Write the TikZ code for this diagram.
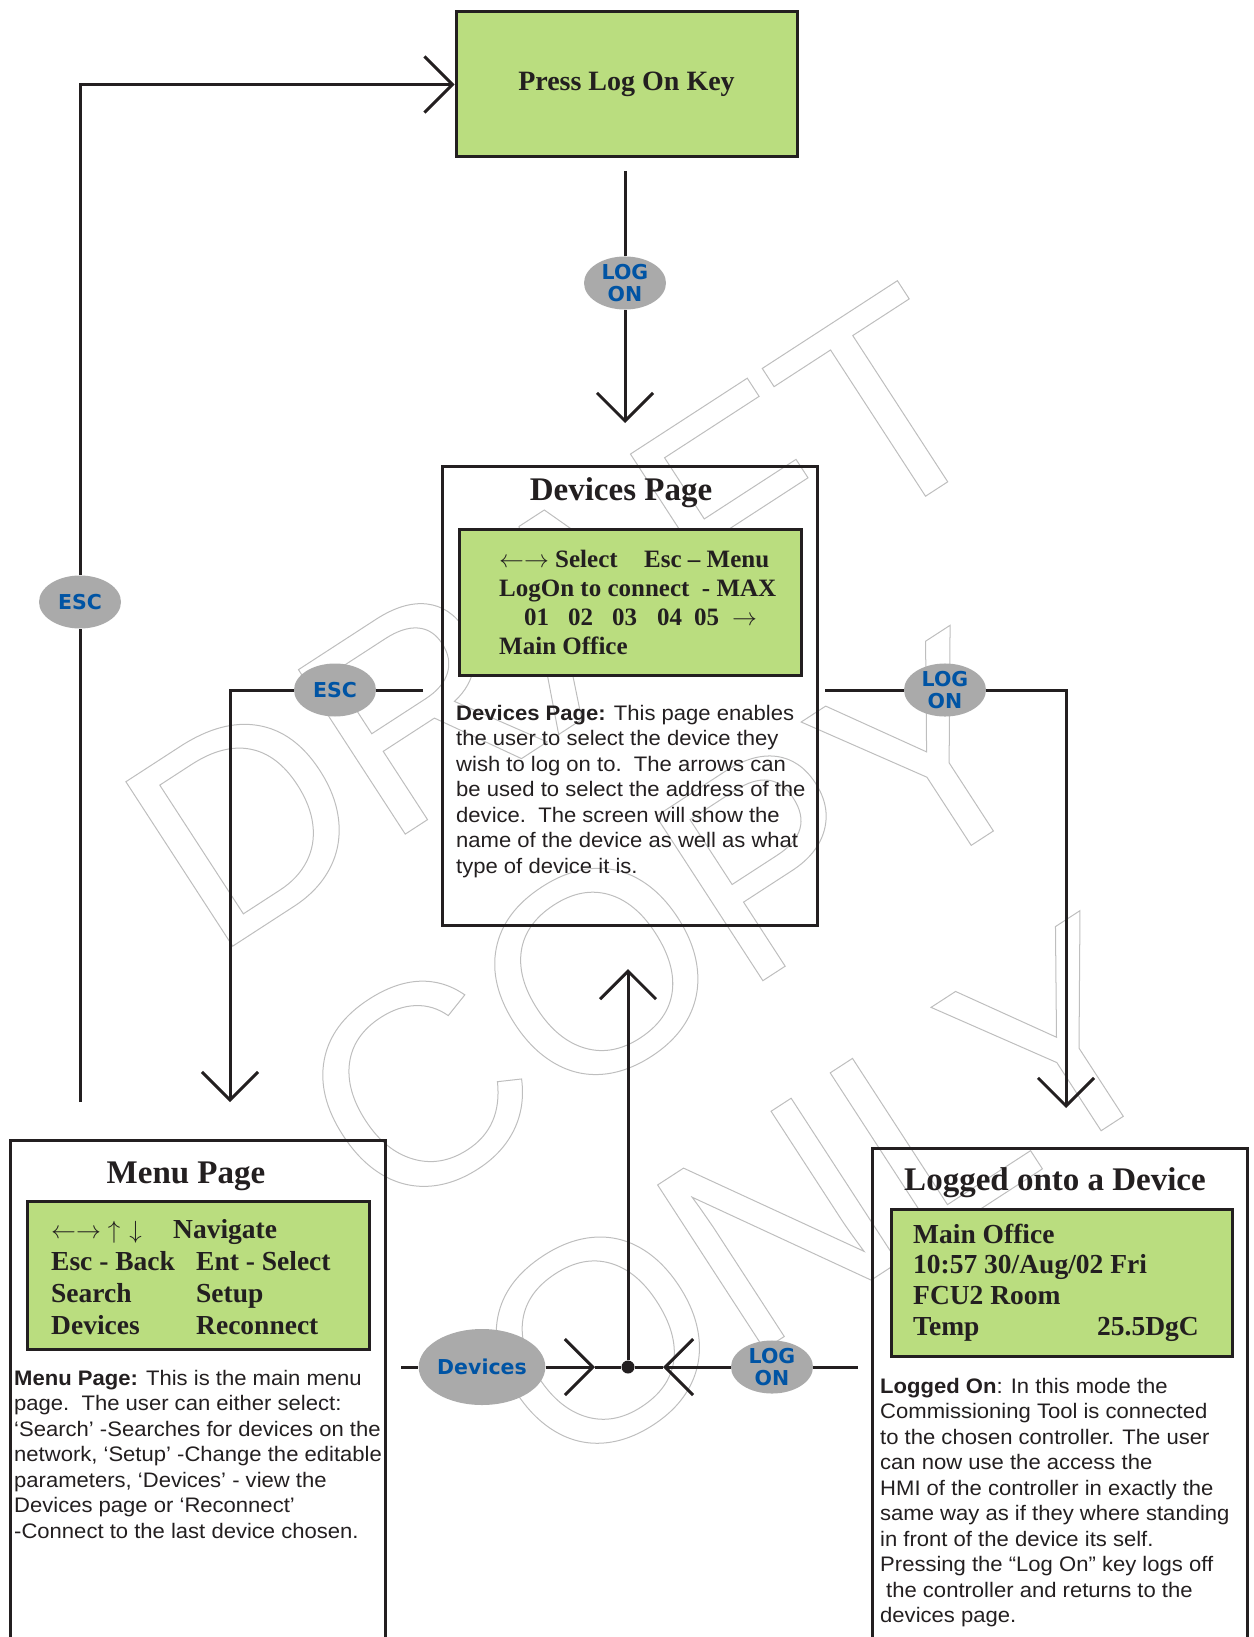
\documentclass[tikz,border=0pt]{standalone}
\usepackage{fontspec}
\setmainfont{Liberation Serif}
\newfontfamily\descfont[FakeStretch=1.05]{Liberation Sans}
\newfontfamily\keyfont{DejaVu Sans}
\newfontfamily\wmfont{Liberation Sans}
\usetikzlibrary{arrows.meta,shapes.geometric}
\definecolor{lcdgreen}{RGB}{186,221,127}
\definecolor{keygray}{RGB}{170,170,170}
\definecolor{keyblue}{RGB}{0,84,164}
\definecolor{inkblack}{RGB}{35,31,32}
\definecolor{wmgray}{RGB}{190,190,190}
\newcommand\wmoutline[1]{\special{pdf:literal direct 1 Tr 1 w}#1\special{pdf:literal direct 0 Tr}}
\newcommand\rarr{$\rightarrow$}
\newcommand\lrarr{$\leftarrow\rightarrow$}
\newcommand\uarr{$\uparrow$}
\newcommand\darr{$\downarrow$}
\begin{document}
\begin{tikzpicture}[x=1pt,y=-1pt,
  frame/.style={draw=inkblack, line width=3pt, inner sep=0pt},
  lcd/.style={frame, fill=lcdgreen},
  conn/.style={draw=inkblack, line width=3pt},
  tipc/.style={conn, -{Straight Barb[length=28pt,width=56pt]}},
  key/.style={ellipse, fill=keygray, inner sep=0pt, minimum width=82pt, minimum height=53pt,
    text=keyblue, font=\keyfont\bfseries\fontsize{20.5}{22}\selectfont, align=center},
  ttl/.style={anchor=base, inner sep=0pt, font=\bfseries\fontsize{33}{36}\selectfont, text=inkblack},
  txt/.style={anchor=base west, inner sep=0pt, text=inkblack},
  wm/.style={inner sep=0pt, rotate=33, text=wmgray, font=\wmfont\fontsize{285}{285}\selectfont}
]
\useasboundingbox (0,0) rectangle (1253,1637);
\clip (0,0) rectangle (1253,1637);

% watermark
\node[wm] (wmdraft) at (558,618) {\wmoutline{DRAFT}};
\node[wm] (wmcopy) at (670,924) {\wmoutline{COPY}};
\node[wm] (wmonly) at (822,1195) {\wmoutline{ONLY}};

% Press Log On Key
\node[lcd, minimum width=341pt, minimum height=145pt, text=inkblack,
  font=\bfseries\fontsize{28}{30}\selectfont] (press) at (626.5,84.5) {Press Log On Key};

% Devices page
\node[frame, minimum width=375pt, minimum height=459pt] (devbox) at (629.5,695.5) {};
\node[lcd, minimum width=342pt, minimum height=146pt] (devlcd) at (630,602) {};
\node[ttl] (devttl) at (621,500) {Devices Page};
\node[txt, font=\bfseries\fontsize{25}{29.33}\selectfont] (devlcdtxt) at (499,567) {\parbox[t]{320pt}{%
\makebox[145pt][l]{\lrarr{} Select}Esc – Menu\\
LogOn to connect\ \ - MAX\\
\hspace*{25pt}\makebox[44pt][l]{01}\makebox[44pt][l]{02}\makebox[45pt][l]{03}\makebox[37pt][l]{04}\makebox[38pt][l]{05}\rarr\\
Main Office}};
\node[txt, font=\descfont\fontsize{21}{25.5}\selectfont] (devdesc) at (456,720) {\parbox[t]{400pt}{%
\textbf{Devices Page:} This page enables\\
the user to select the device they\\
wish to log on to.\ \ The arrows can\\
be used to select the address of the\\
device.\ \ The screen will show the\\
name of the device as well as what\\
type of device it is.}};

% Menu page
\node[frame, minimum width=375pt, minimum height=510pt] (menubox) at (197.5,1395) {};
\node[lcd, minimum width=342pt, minimum height=148pt] (menulcd) at (198,1275) {};
\node[ttl] (menuttl) at (186,1183) {Menu Page};
\node[txt, font=\bfseries\fontsize{27.5}{32}\selectfont] (menulcdtxt) at (51,1238) {\parbox[t]{320pt}{%
\makebox[122pt][l]{\lrarr\hspace{7pt}\uarr\hspace{9pt}\darr}Navigate\\
\makebox[145pt][l]{Esc - Back}Ent - Select\\
\makebox[145pt][l]{Search}Setup\\
\makebox[145pt][l]{Devices}Reconnect}};
\node[txt, font=\descfont\fontsize{21}{25.5}\selectfont] (menudesc) at (14,1385) {\parbox[t]{400pt}{%
\textbf{Menu Page:} This is the main menu\\
page.\ \ The user can either select:\\
‘Search’ -Searches for devices on the\\
network, ‘Setup’ -Change the editable\\
parameters, ‘Devices’ - view the\\
Devices page or ‘Reconnect’\\
-Connect to the last device chosen.}};

% Logged onto a device
\node[frame, minimum width=375pt, minimum height=502pt] (logbox) at (1059.5,1399) {};
\node[lcd, minimum width=341pt, minimum height=147pt] (loglcd) at (1061.5,1282.5) {};
\node[ttl] (logttl) at (1055,1190) {Logged onto a Device};
\node[txt, font=\bfseries\fontsize{27.5}{30.67}\selectfont] (loglcdtxt) at (913,1243) {\parbox[t]{320pt}{%
Main Office\\
10:57 30/Aug/02 Fri\\
FCU2 Room\\
\makebox[184pt][l]{Temp}25.5DgC}};
\node[txt, font=\descfont\fontsize{21}{25.5}\selectfont] (logdesc) at (880,1393) {\parbox[t]{400pt}{%
\textbf{Logged On}: In this mode the\\
Commissioning Tool is connected\\
to the chosen controller. The user\\
can now use the access the\\
HMI of the controller in exactly the\\
same way as if they where standing\\
in front of the device its self.\\
Pressing the “Log On” key logs off\\
\hspace*{6pt}the controller and returns to the\\
devices page.}};

% key ellipses
\node[key] (esc1) at (80,602) {ESC};
\node[key] (logon1) at (625,283) {LOG\\ON};
\node[key] (esc2) at (335,690) {ESC};
\node[key] (logon2) at (945,690) {LOG\\ON};
\node[key, minimum width=118pt, minimum height=76pt] (dev3) at (482,1367) {Devices};
\node[key] (logon3) at (772,1367) {LOG\\ON};
\node[circle, fill=inkblack, inner sep=0pt, minimum size=13pt] (dot) at (628,1367) {};

% connector end points
\coordinate (loopA) at (80,1102);
\coordinate (t1) at (625,171);
\coordinate (t2) at (625,423);
\coordinate (e1) at (423,690);
\coordinate (e2) at (230,1102);
\coordinate (l1) at (825,690);
\coordinate (l2) at (1066,1108);
\coordinate (bl) at (401,1367);
\coordinate (br) at (858,1367);
\coordinate (chevR) at (595,1367);
\coordinate (chevL) at (663,1367);
\coordinate (uptip) at (628,969);

% connectors
\draw[conn] (loopA) -- (esc1);
\draw[tipc] (esc1) |- (press.west);
\draw[conn] (t1) -- (logon1);
\draw[tipc] (logon1) -- (t2);
\draw[conn] (e1) -- (esc2);
\draw[tipc] (esc2) -| (e2);
\draw[conn] (l1) -- (logon2);
\draw[tipc] (logon2) -| (l2);
\draw[conn] (bl) -- (dev3);
\draw[tipc] (dev3) -- (chevR);
\draw[conn] (chevR) -- (dot);
\draw[conn] (dot) -- (chevL);
\draw[tipc] (logon3) -- (chevL);
\draw[conn] (logon3) -- (br);
\draw[tipc] (dot) -- (uptip);
\end{tikzpicture}
\end{document}
